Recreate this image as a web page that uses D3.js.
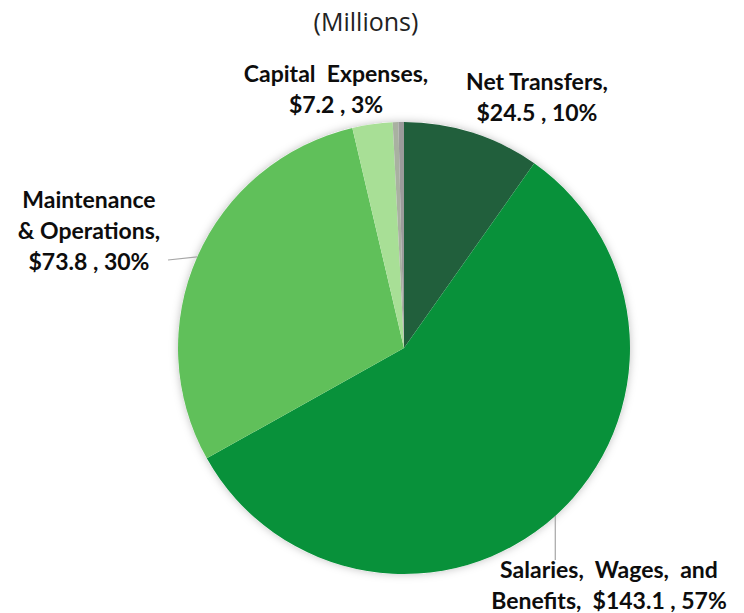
<!DOCTYPE html>
<html lang="en">
<head>
<meta charset="UTF-8">
<title>Budget pie</title>
<script src="https://cdn.jsdelivr.net/npm/d3@7"></script>
<style>
    body { margin: 0; background: #fff; }
    text.title { font-family: 'Open Sans', sans-serif; font-size: 25px; fill: #222; }
    text.label { font-family: Lato, sans-serif; font-size: 23px; font-weight: bold; fill: #0d0d0d; white-space: pre; }
</style>
</head>
<body>
<svg id="fig" width="744" height="613"></svg>
<script>
    // slices clockwise from 12 o'clock
    let categories = ['Net Transfers', 'Salaries, Wages, and Benefits', 'Maintenance & Operations', 'Capital Expenses', 'Other A', 'Other B']
    let values = [24.5, 143.1, 73.8, 7.2, 1.0, 1.0]
    let pctLabels = ['10%', '57%', '30%', '3%', '', '']
    let colors = ['#215f3c', '#08913a', '#60c05a', '#a8df96', '#a9b1a1', '#9b9b9b']

    // label lines as they wrap in the picture
    let labelLines = [
        ['Net Transfers,', '$24.5 , 10%'],
        ['Salaries,  Wages,  and', 'Benefits,  $143.1 , 57%'],
        ['Maintenance', '& Operations,', '$73.8 , 30%'],
        ['Capital  Expenses,', '$7.2 , 3%'],
        [],
        []
    ]
    let labelPos = [[537, 90], [609, 578], [89, 208], [336, 82], null, null]
    let leader = [false, true, true, false, false, false]

    let svg = d3.select('#fig')
    let cx = 404, cy = 348, r = 226

    let defs = svg.append('defs')
    defs.append('filter').attr('id', 'shadow')
        .attr('x', '-10%').attr('y', '-10%').attr('width', '120%').attr('height', '120%')
        .append('feDropShadow')
        .attr('dx', 0).attr('dy', 0).attr('stdDeviation', 4)
        .attr('flood-color', '#000').attr('flood-opacity', 0.25)

    svg.append('text').attr('class', 'title')
        .attr('x', 366).attr('y', 31).attr('text-anchor', 'middle')
        .text('(Millions)')

    let pie = d3.pie().sort(null).value(d => d.value)
    let data = categories.map((c, i) => ({name: c, value: values[i], color: colors[i], i: i}))
    let arcs = pie(data)

    let arc = d3.arc().innerRadius(0).outerRadius(r)
    let rim = d3.arc().innerRadius(r).outerRadius(r)

    let g = svg.append('g').attr('transform', `translate(${cx},${cy})`)
    g.append('circle').attr('r', r).attr('fill', '#fff').attr('filter', 'url(#shadow)')
    g.selectAll('path.slice')
        .data(arcs)
        .join('path')
        .attr('class', 'slice')
        .attr('d', arc)
        .attr('fill', d => d.data.color)

    // leader lines
    arcs.forEach(function (d) {
        let i = d.data.i
        if (!leader[i]) return
        let p = rim.centroid(d)
        let x0 = cx + p[0], y0 = cy + p[1]
        let lp = labelPos[i]
        let x1, y1
        if (i === 1) { x1 = x0; y1 = lp[1] - 18 }
        else { x1 = 168; y1 = 260 }
        svg.append('line')
            .attr('x1', x0).attr('y1', y0).attr('x2', x1).attr('y2', y1)
            .attr('stroke', '#a6a6a6').attr('stroke-width', 1.2)
    })

    labelLines.forEach(function (lines, i) {
        if (!lines.length) return
        let t = svg.append('text').attr('class', 'label')
            .attr('x', labelPos[i][0]).attr('y', labelPos[i][1])
            .attr('text-anchor', 'middle')
        lines.forEach(function (s, k) {
            t.append('tspan').attr('x', labelPos[i][0]).attr('dy', k === 0 ? 0 : 31).text(s)
        })
    })
</script>
</body>
</html>
